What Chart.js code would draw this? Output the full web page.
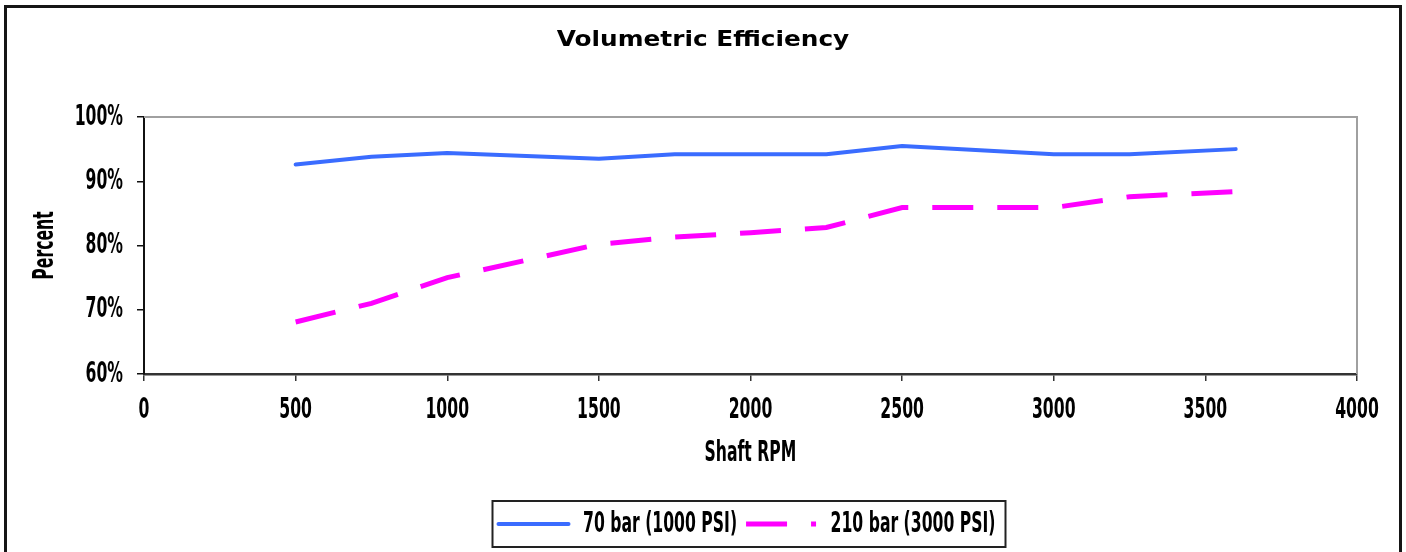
<!DOCTYPE html>
<html>
<head>
<meta charset="utf-8">
<script src="https://cdn.jsdelivr.net/npm/chart.js@4/dist/chart.umd.min.js"></script>
<style>
  html, body { margin: 0; padding: 0; background: #fff; }
  #wrap { position: relative; width: 1406px; height: 552px; overflow: hidden; }
  #frame { position: absolute; left: 4px; top: 5px; width: 1398px; height: 560px; border: 3px solid #151515; box-sizing: border-box; pointer-events: none; }
  canvas { position: absolute; left: 0; top: 0; }
</style>
</head>
<body>
<div id="wrap">
  <canvas id="c" width="1406" height="552"></canvas>
  <div id="frame"></div>
</div>
<script>
const rpm = [500, 750, 1000, 1500, 1750, 2000, 2250, 2500, 3000, 3250, 3600];
const eff70bar = [92.6, 93.8, 94.4, 93.5, 94.2, 94.2, 94.2, 95.5, 94.2, 94.2, 95.0];
const eff210bar = [68.1, 71.0, 75.0, 80.2, 81.3, 82.0, 82.8, 85.9, 85.9, 87.6, 88.4];
const seriesLabels = ['70 bar (1000 PSI)', '210 bar (3000 PSI)'];
const xTicks = [0, 500, 1000, 1500, 2000, 2500, 3000, 3500, 4000];
const yTicks = [60, 70, 80, 90, 100];

const narrow = "'DejaVu Sans Condensed', sans-serif";
const wide = "Verdana, 'DejaVu Sans', sans-serif";

// Horizontal text scaling to imitate the very condensed / wide faces of the original.
const canvas = document.getElementById('c');
const c2d = canvas.getContext('2d');
function sxFor(font) {
  if (font.indexOf('Condensed') >= 0) return 0.6;
  if (font.indexOf('Verdana') >= 0) return 1.18;
  return 1;
}
const protoFill = CanvasRenderingContext2D.prototype.fillText;
const protoMeasure = CanvasRenderingContext2D.prototype.measureText;
c2d.fillText = function (text, x, y, maxWidth) {
  const sx = sxFor(this.font);
  if (sx === 1) {
    return maxWidth === undefined ? protoFill.call(this, text, x, y) : protoFill.call(this, text, x, y, maxWidth);
  }
  this.save();
  this.translate(x, y);
  this.scale(sx, 1);
  if (maxWidth === undefined) protoFill.call(this, text, 0, 0);
  else protoFill.call(this, text, 0, 0, maxWidth / sx);
  this.restore();
};
c2d.measureText = function (text) {
  const m = protoMeasure.call(this, text);
  const sx = sxFor(this.font);
  if (sx === 1) return m;
  return {
    width: m.width * sx,
    actualBoundingBoxLeft: m.actualBoundingBoxLeft * sx,
    actualBoundingBoxRight: m.actualBoundingBoxRight * sx,
    actualBoundingBoxAscent: m.actualBoundingBoxAscent,
    actualBoundingBoxDescent: m.actualBoundingBoxDescent,
    fontBoundingBoxAscent: m.fontBoundingBoxAscent,
    fontBoundingBoxDescent: m.fontBoundingBoxDescent
  };
};

const frameBox = {
  id: 'frameBox',
  afterLayout(chart) {
    const lg = chart.legend;
    if (lg) { lg.left += 44; lg.right += 44; }
  },
  beforeDatasetsDraw(chart) {
    const {ctx, chartArea: a} = chart;
    ctx.save();
    ctx.strokeStyle = '#a0a0a0';
    ctx.lineWidth = 2;
    ctx.beginPath();
    ctx.moveTo(a.left, a.top);
    ctx.lineTo(a.right, a.top);
    ctx.lineTo(a.right, a.bottom);
    ctx.stroke();
    ctx.restore();
  },
  afterDraw(chart) {
    const lg = chart.legend;
    if (!lg || !lg.legendHitBoxes || !lg.legendHitBoxes.length) return;
    const hb = lg.legendHitBoxes;
    const first = hb[0], last = hb[hb.length - 1];
    const cy = first.top + first.height / 2;
    const ctx = chart.ctx;
    ctx.save();
    ctx.strokeStyle = '#222';
    ctx.lineWidth = 2;
    ctx.strokeRect(first.left - 6, cy - 23, (last.left + last.width + 10) - (first.left - 6), 46);
    ctx.restore();
  }
};

new Chart(canvas, {
  type: 'line',
  data: {
    datasets: [
      {
        label: seriesLabels[0],
        data: rpm.map((x, i) => ({x, y: eff70bar[i]})),
        borderColor: '#3a6cff',
        backgroundColor: '#3a6cff',
        borderWidth: 4,
        borderCapStyle: 'round',
        borderJoinStyle: 'round',
        pointRadius: 0,
        tension: 0
      },
      {
        label: seriesLabels[1],
        data: rpm.map((x, i) => ({x, y: eff210bar[i]})),
        borderColor: '#ff00ff',
        backgroundColor: '#ff00ff',
        borderWidth: 5,
        borderDash: [41, 24],
        borderCapStyle: 'butt',
        pointRadius: 0,
        tension: 0
      }
    ]
  },
  options: {
    responsive: false,
    animation: false,
    layout: { padding: { left: 8, right: 8, top: 0, bottom: 3.5 } },
    plugins: {
      title: {
        display: true,
        text: 'Volumetric Efficiency',
        color: '#000',
        font: { family: wide, weight: 'bold', size: 21, lineHeight: 1.2 },
        padding: { top: 28, bottom: 63.8 }
      },
      legend: {
        position: 'bottom',
        labels: {
          color: '#000',
          font: { family: narrow, weight: 'bold', size: 29 },
          usePointStyle: true,
          pointStyle: 'line',
          pointStyleWidth: 70,
          boxWidth: 70,
          padding: 9,
          generateLabels(chart) {
            const items = Chart.defaults.plugins.legend.labels.generateLabels(chart);
            items.forEach((it) => {
              const ds = chart.data.datasets[it.datasetIndex];
              it.lineDash = ds.borderDash || [];
              it.lineDashOffset = 0;
              it.lineWidth = ds.borderWidth;
              it.lineCap = ds.borderCapStyle;
              it.strokeStyle = ds.borderColor;
              it.fillStyle = ds.borderColor;
            });
            return items;
          }
        }
      },
      tooltip: { enabled: false }
    },
    scales: {
      x: {
        type: 'linear',
        min: 0,
        max: 4000,
        afterBuildTicks(scale) { scale.ticks = xTicks.map(v => ({value: v})); },
        afterFit(scale) { scale.height = 126.5; },
        grid: { drawOnChartArea: false, drawTicks: true, tickLength: 7, color: '#333', lineWidth: 1.5 },
        border: { color: '#333', width: 2.5 },
        ticks: {
          color: '#000',
          padding: 12,
          maxRotation: 0,
          font: { family: narrow, weight: 'bold', size: 29 },
          callback: v => String(v)
        },
        title: {
          display: true,
          text: 'Shaft RPM',
          color: '#000',
          font: { family: narrow, weight: 'bold', size: 29, lineHeight: 1.2 },
          padding: { top: 0, bottom: 30 }
        }
      },
      y: {
        type: 'linear',
        min: 60,
        max: 100,
        afterBuildTicks(scale) { scale.ticks = yTicks.map(v => ({value: v})); },
        afterFit(scale) { scale.width = 136; },
        grid: { drawOnChartArea: false, drawTicks: true, tickLength: 7, color: '#111', lineWidth: 1.5 },
        border: { color: '#111', width: 2 },
        ticks: {
          color: '#000',
          padding: 14,
          font: { family: narrow, weight: 'bold', size: 29 },
          callback: v => v + '%'
        },
        title: {
          display: true,
          text: 'Percent',
          color: '#000',
          font: { family: narrow, weight: 'bold', size: 29, lineHeight: 1.2 },
          padding: { top: 19.6, bottom: 0 }
        }
      },
      yRight: {
        type: 'linear',
        position: 'right',
        display: true,
        min: 60,
        max: 100,
        afterFit(scale) { scale.width = 41; },
        grid: { display: false, drawTicks: false },
        border: { display: false },
        ticks: { display: false }
      }
    }
  },
  plugins: [frameBox]
});
</script>
</body>
</html>
